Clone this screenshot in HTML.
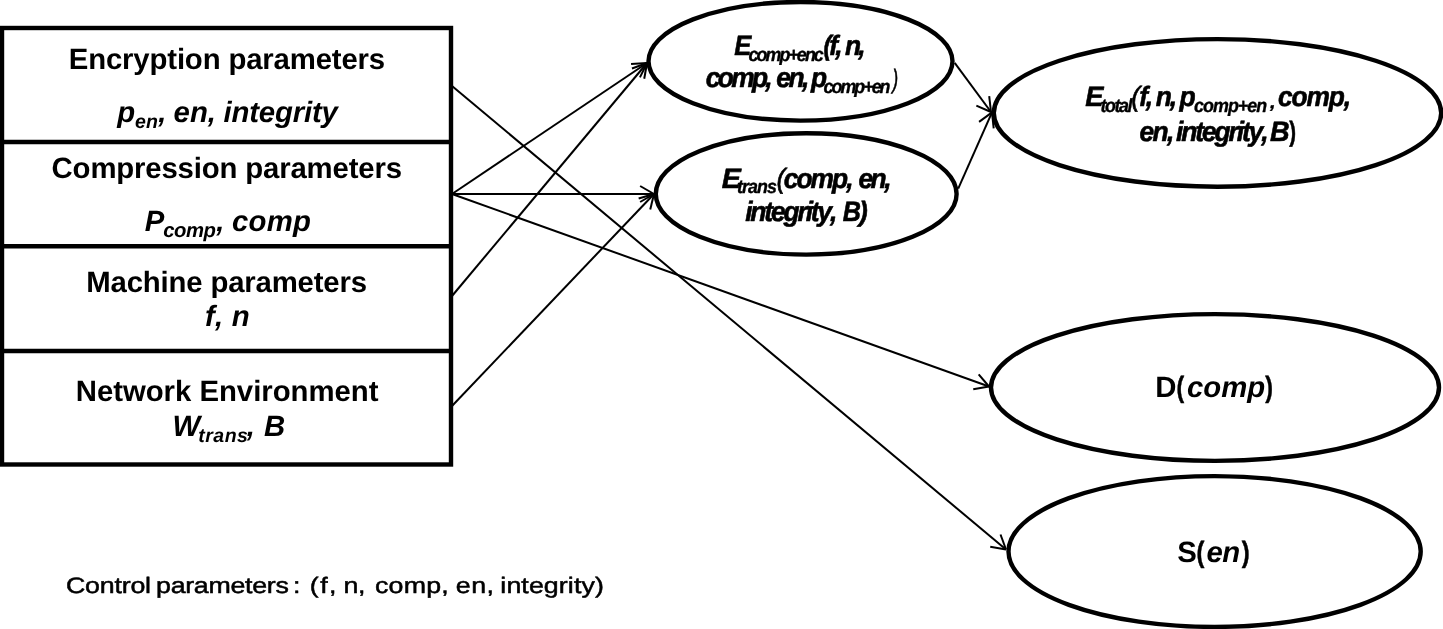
<!DOCTYPE html>
<html><head><meta charset="utf-8"><title>diagram</title>
<style>
html,body{margin:0;padding:0;background:#fff;}
body{width:1443px;height:629px;overflow:hidden;}
svg{display:block;will-change:transform;filter:grayscale(1);}
text{font-family:"Liberation Sans",sans-serif;fill:#000;font-kerning:none;white-space:pre;text-rendering:geometricPrecision;}
.sh{fill:none;stroke:#000;stroke-width:4.4;}
.ln line{stroke:#000;stroke-width:2;stroke-linecap:butt;}
</style></head><body>
<svg width="1443" height="629" viewBox="0 0 1443 629">
<rect x="0" y="0" width="1443" height="629" fill="#fff"/>
<g class="ln">
<line x1="452" y1="86" x2="1006" y2="549.5"/><line x1="1006" y1="549.5" x2="1000.51" y2="534.47"/><line x1="1006" y1="549.5" x2="990.24" y2="546.74"/>
<line x1="452" y1="194" x2="647" y2="63"/><line x1="647" y1="63" x2="631.04" y2="64.09"/><line x1="647" y1="63" x2="639.96" y2="77.37"/>
<line x1="452" y1="194" x2="654" y2="194"/><line x1="654" y1="194" x2="640.14" y2="186.00"/><line x1="654" y1="194" x2="640.14" y2="202.00"/>
<line x1="452" y1="194" x2="989" y2="386.5"/><line x1="989" y1="386.5" x2="978.66" y2="374.29"/><line x1="989" y1="386.5" x2="973.26" y2="389.35"/>
<line x1="452" y1="296" x2="647" y2="63"/><line x1="647" y1="63" x2="631.97" y2="68.49"/><line x1="647" y1="63" x2="644.24" y2="78.76"/>
<line x1="452" y1="406" x2="654" y2="194"/><line x1="654" y1="194" x2="638.65" y2="198.51"/><line x1="654" y1="194" x2="650.23" y2="209.55"/>
<line x1="954.7" y1="62.9" x2="991" y2="112"/><line x1="991" y1="112" x2="989.20" y2="96.10"/><line x1="991" y1="112" x2="976.33" y2="105.61"/>
<line x1="958.2" y1="188.7" x2="992" y2="112.4"/><line x1="992" y1="112.4" x2="979.07" y2="121.83"/><line x1="992" y1="112.4" x2="993.70" y2="128.31"/>
</g>
<g class="sh">
<rect x="2" y="28" width="449" height="436.5"/>
<line x1="2" y1="142" x2="451" y2="142"/>
<line x1="2" y1="246.2" x2="451" y2="246.2"/>
<line x1="2" y1="351" x2="451" y2="351"/>
<ellipse cx="800.5" cy="61.3" rx="152" ry="59.3"/>
<ellipse cx="806.2" cy="193.9" rx="150.4" ry="60.7"/>
<ellipse cx="1217.5" cy="112.9" rx="223.7" ry="73.8"/>
<ellipse cx="1215" cy="387.5" rx="224" ry="73.4"/>
<ellipse cx="1214.6" cy="551.5" rx="206.1" ry="75.4"/>
</g>
<text transform="translate(68.74,68.90)" style="font-size:29.33px;font-weight:bold;letter-spacing:-0.151px">Encryption parameters</text>
<text transform="translate(117.14,122.00)" style="font-size:29.33px;font-weight:bold;font-style:italic;letter-spacing:0.000px">p</text>
<text transform="translate(134.90,127.60)" style="font-size:19.55px;font-weight:bold;font-style:italic;letter-spacing:0.308px">en</text>
<text transform="translate(158.29,122.00)" style="font-size:29.33px;font-weight:bold;font-style:italic;letter-spacing:0.000px">,</text>
<text transform="translate(173.60,122.00)" style="font-size:29.33px;font-weight:bold;font-style:italic;letter-spacing:0.016px">en,</text>
<text transform="translate(223.40,122.00)" style="font-size:29.33px;font-weight:bold;font-style:italic;letter-spacing:-0.152px">integrity</text>
<text transform="translate(51.60,178.00)" style="font-size:29.33px;font-weight:bold;letter-spacing:-0.158px">Compression parameters</text>
<text transform="translate(144.78,230.60)" style="font-size:29.33px;font-weight:bold;font-style:italic;letter-spacing:0.000px">P</text>
<text transform="translate(163.28,236.80)" style="font-size:20.30px;font-weight:bold;font-style:italic;letter-spacing:-0.454px">comp</text>
<text transform="translate(216.29,230.60)" style="font-size:29.33px;font-weight:bold;font-style:italic;letter-spacing:0.000px">,</text>
<text transform="translate(232.10,230.60)" style="font-size:29.33px;font-weight:bold;font-style:italic;letter-spacing:0.208px">comp</text>
<text transform="translate(86.34,292.20)" style="font-size:29.33px;font-weight:bold;letter-spacing:-0.175px">Machine parameters</text>
<text transform="translate(205.04,326.40)" style="font-size:29.33px;font-weight:bold;font-style:italic;letter-spacing:0.237px">f, n</text>
<text transform="translate(75.74,400.80)" style="font-size:29.33px;font-weight:bold;letter-spacing:-0.022px">Network Environment</text>
<text transform="translate(172.55,435.70)" style="font-size:29.33px;font-weight:bold;font-style:italic;letter-spacing:0.000px">W</text>
<text transform="translate(198.18,442.30)" style="font-size:19.55px;font-weight:bold;font-style:italic;letter-spacing:0.496px">trans</text>
<text transform="translate(246.79,435.70)" style="font-size:29.33px;font-weight:bold;font-style:italic;letter-spacing:0.000px">,</text>
<text transform="translate(263.98,435.70)" style="font-size:29.33px;font-weight:bold;font-style:italic;letter-spacing:0.000px">B</text>
<text transform="translate(734.25,54.90) scale(0.9110,1.0000)" style="font-size:28.00px;font-weight:bold;font-style:italic;letter-spacing:0.000px;stroke:#000;stroke-width:0.60px;stroke-linejoin:round">E</text>
<text transform="translate(748.42,60.50) scale(0.9400,1.0000)" style="font-size:19.00px;font-weight:bold;font-style:italic;letter-spacing:-2.045px;stroke:#000;stroke-width:0.35px;stroke-linejoin:round">comp+enc</text>
<text transform="translate(823.40,54.90) scale(0.8500,1.0000)" style="font-size:28.00px;font-weight:bold;font-style:italic;letter-spacing:0.000px;stroke:#000;stroke-width:0.60px;stroke-linejoin:round">(</text>
<text transform="translate(829.13,54.90) scale(0.9400,1.0000)" style="font-size:28.00px;font-weight:bold;font-style:italic;letter-spacing:0.000px;stroke:#000;stroke-width:0.60px;stroke-linejoin:round">f</text>
<text transform="translate(835.14,54.90) scale(0.9400,1.0000)" style="font-size:28.00px;font-weight:bold;font-style:italic;letter-spacing:0.000px;stroke:#000;stroke-width:0.60px;stroke-linejoin:round">,</text>
<text transform="translate(845.03,54.90) scale(0.9400,1.0000)" style="font-size:28.00px;font-weight:bold;font-style:italic;letter-spacing:0.000px;stroke:#000;stroke-width:0.60px;stroke-linejoin:round">n</text>
<text transform="translate(858.34,54.90) scale(0.9400,1.0000)" style="font-size:28.00px;font-weight:bold;font-style:italic;letter-spacing:0.000px;stroke:#000;stroke-width:0.60px;stroke-linejoin:round">,</text>
<text transform="translate(705.67,87.00) scale(0.9400,1.0000)" style="font-size:28.00px;font-weight:bold;font-style:italic;letter-spacing:-2.796px;stroke:#000;stroke-width:0.60px;stroke-linejoin:round">comp,</text>
<text transform="translate(776.37,87.00) scale(0.9400,1.0000)" style="font-size:28.00px;font-weight:bold;font-style:italic;letter-spacing:-2.677px;stroke:#000;stroke-width:0.60px;stroke-linejoin:round">en,</text>
<text transform="translate(811.06,87.00) scale(0.9400,1.0000)" style="font-size:28.00px;font-weight:bold;font-style:italic;letter-spacing:0.000px;stroke:#000;stroke-width:0.60px;stroke-linejoin:round">p</text>
<text transform="translate(823.62,93.30) scale(0.9400,1.0000)" style="font-size:19.00px;font-weight:bold;font-style:italic;letter-spacing:-2.134px;stroke:#000;stroke-width:0.35px;stroke-linejoin:round">comp+en</text>
<text transform="translate(892.55,87.80) scale(0.6415,1.0000)" style="font-size:26.50px;font-style:italic;letter-spacing:0.000px;stroke:#000;stroke-width:0.60px;stroke-linejoin:round">)</text>
<text transform="translate(721.70,187.50) scale(1.0222,1.0000)" style="font-size:28.00px;font-weight:bold;font-style:italic;letter-spacing:0.000px;stroke:#000;stroke-width:0.60px;stroke-linejoin:round">E</text>
<text transform="translate(737.11,193.30) scale(0.9400,1.0000)" style="font-size:19.00px;font-weight:bold;font-style:italic;letter-spacing:-1.022px;stroke:#000;stroke-width:0.35px;stroke-linejoin:round">trans</text>
<text transform="translate(776.45,187.70) scale(0.9400,1.0000)" style="font-size:28.00px;font-style:italic;letter-spacing:0.000px;stroke:#000;stroke-width:0.60px;stroke-linejoin:round">(</text>
<text transform="translate(783.67,187.70) scale(0.9400,1.0000)" style="font-size:28.00px;font-weight:bold;font-style:italic;letter-spacing:-2.051px;stroke:#000;stroke-width:0.60px;stroke-linejoin:round">comp,</text>
<text transform="translate(858.47,187.70) scale(0.9400,1.0000)" style="font-size:28.00px;font-weight:bold;font-style:italic;letter-spacing:-2.677px;stroke:#000;stroke-width:0.60px;stroke-linejoin:round">en,</text>
<text transform="translate(745.13,221.00) scale(0.9400,1.0000)" style="font-size:28.00px;font-weight:bold;font-style:italic;letter-spacing:-2.235px;stroke:#000;stroke-width:0.60px;stroke-linejoin:round">integrity,</text>
<text transform="translate(842.86,221.00) scale(0.8989,1.0000)" style="font-size:28.00px;font-weight:bold;font-style:italic;letter-spacing:0.000px;stroke:#000;stroke-width:0.60px;stroke-linejoin:round">B</text>
<text transform="translate(859.02,221.00) scale(0.9400,1.0000)" style="font-size:28.00px;font-weight:bold;font-style:italic;letter-spacing:0.000px;stroke:#000;stroke-width:0.60px;stroke-linejoin:round">)</text>
<text transform="translate(1085.32,105.70) scale(0.9745,1.0000)" style="font-size:28.00px;font-weight:bold;font-style:italic;letter-spacing:0.000px;stroke:#000;stroke-width:0.60px;stroke-linejoin:round">E</text>
<text transform="translate(1100.41,111.50) scale(0.9400,1.0000)" style="font-size:19.00px;font-weight:bold;font-style:italic;letter-spacing:-1.485px;stroke:#000;stroke-width:0.35px;stroke-linejoin:round">total</text>
<text transform="translate(1131.35,105.70) scale(0.9400,1.0000)" style="font-size:28.00px;font-style:italic;letter-spacing:0.000px;stroke:#000;stroke-width:0.60px;stroke-linejoin:round">(</text>
<text transform="translate(1139.33,105.70) scale(0.9400,1.0000)" style="font-size:28.00px;font-weight:bold;font-style:italic;letter-spacing:-2.597px;stroke:#000;stroke-width:0.60px;stroke-linejoin:round">f,</text>
<text transform="translate(1155.83,105.70) scale(0.9400,1.0000)" style="font-size:28.00px;font-weight:bold;font-style:italic;letter-spacing:-2.399px;stroke:#000;stroke-width:0.60px;stroke-linejoin:round">n,</text>
<text transform="translate(1179.38,105.70) scale(0.9455,1.0000)" style="font-size:28.00px;font-weight:bold;font-style:italic;letter-spacing:0.000px;stroke:#000;stroke-width:0.60px;stroke-linejoin:round">p</text>
<text transform="translate(1194.12,111.50) scale(0.9400,1.0000)" style="font-size:19.00px;font-weight:bold;font-style:italic;letter-spacing:-1.052px;stroke:#000;stroke-width:0.35px;stroke-linejoin:round">comp+en</text>
<text transform="translate(1269.88,107.50) scale(1.0805,1.0000)" style="font-size:19.00px;font-weight:bold;font-style:italic;letter-spacing:0.000px;stroke:#000;stroke-width:0.35px;stroke-linejoin:round">,</text>
<text transform="translate(1277.97,105.70) scale(0.9400,1.0000)" style="font-size:28.00px;font-weight:bold;font-style:italic;letter-spacing:-1.200px;stroke:#000;stroke-width:0.60px;stroke-linejoin:round">comp,</text>
<text transform="translate(1139.47,140.50) scale(0.9400,1.0000)" style="font-size:28.00px;font-weight:bold;font-style:italic;letter-spacing:-1.667px;stroke:#000;stroke-width:0.60px;stroke-linejoin:round">en,</text>
<text transform="translate(1176.03,140.50) scale(0.9400,1.0000)" style="font-size:28.00px;font-weight:bold;font-style:italic;letter-spacing:-2.199px;stroke:#000;stroke-width:0.60px;stroke-linejoin:round">integrity,</text>
<text transform="translate(1270.12,140.50) scale(0.9685,1.0000)" style="font-size:28.00px;font-weight:bold;font-style:italic;letter-spacing:0.000px;stroke:#000;stroke-width:0.60px;stroke-linejoin:round">B</text>
<text transform="translate(1289.28,140.50) scale(0.7213,1.0000)" style="font-size:28.00px;font-weight:bold;letter-spacing:0.000px;stroke:#000;stroke-width:0.60px;stroke-linejoin:round">)</text>
<text transform="translate(1155.24,397.40)" style="font-size:29.33px;font-weight:bold;letter-spacing:0.000px">D</text>
<text transform="translate(1176.50,397.40) scale(0.7852,1.0000)" style="font-size:29.33px;font-weight:bold;letter-spacing:0.000px;stroke:#000;stroke-width:0.50px;stroke-linejoin:round">(</text>
<text transform="translate(1186.90,397.40)" style="font-size:29.33px;font-weight:bold;font-style:italic;letter-spacing:0.008px">comp</text>
<text transform="translate(1265.33,397.40) scale(0.7852,1.0000)" style="font-size:29.33px;font-weight:bold;letter-spacing:0.000px;stroke:#000;stroke-width:0.50px;stroke-linejoin:round">)</text>
<text transform="translate(1177.16,561.60)" style="font-size:29.33px;font-weight:bold;letter-spacing:0.000px">S</text>
<text transform="translate(1196.47,561.60) scale(0.8094,1.0000)" style="font-size:29.33px;font-weight:bold;letter-spacing:0.000px;stroke:#000;stroke-width:0.50px;stroke-linejoin:round">(</text>
<text transform="translate(1206.60,561.60)" style="font-size:29.33px;font-weight:bold;font-style:italic;letter-spacing:-0.594px">en</text>
<text transform="translate(1241.63,561.60) scale(0.8094,1.0000)" style="font-size:29.33px;font-weight:bold;letter-spacing:0.000px;stroke:#000;stroke-width:0.50px;stroke-linejoin:round">)</text>
<text transform="translate(65.89,593.20) scale(1.2000,1.0000)" style="font-size:22.30px;;letter-spacing:-0.155px;stroke:#000;stroke-width:0.50px;stroke-linejoin:round">Control</text>
<text transform="translate(156.03,593.20) scale(1.2000,1.0000)" style="font-size:22.30px;;letter-spacing:-0.236px;stroke:#000;stroke-width:0.50px;stroke-linejoin:round">parameters</text>
<text transform="translate(293.01,593.20) scale(1.2000,1.0000)" style="font-size:22.30px;;letter-spacing:0.000px;stroke:#000;stroke-width:0.50px;stroke-linejoin:round">:</text>
<text transform="translate(309.79,593.20) scale(1.2000,1.0000)" style="font-size:22.30px;;letter-spacing:1.201px;stroke:#000;stroke-width:0.50px;stroke-linejoin:round">(f,</text>
<text transform="translate(343.57,593.20) scale(1.2000,1.0000)" style="font-size:22.30px;;letter-spacing:-0.447px;stroke:#000;stroke-width:0.50px;stroke-linejoin:round">n,</text>
<text transform="translate(375.01,593.20) scale(1.2000,1.0000)" style="font-size:22.30px;;letter-spacing:0.181px;stroke:#000;stroke-width:0.50px;stroke-linejoin:round">comp,</text>
<text transform="translate(455.81,593.20) scale(1.2000,1.0000)" style="font-size:22.30px;;letter-spacing:0.392px;stroke:#000;stroke-width:0.50px;stroke-linejoin:round">en,</text>
<text transform="translate(500.36,593.20) scale(1.2000,1.0000)" style="font-size:22.30px;;letter-spacing:0.078px;stroke:#000;stroke-width:0.50px;stroke-linejoin:round">integrity)</text>
</svg></body></html>
